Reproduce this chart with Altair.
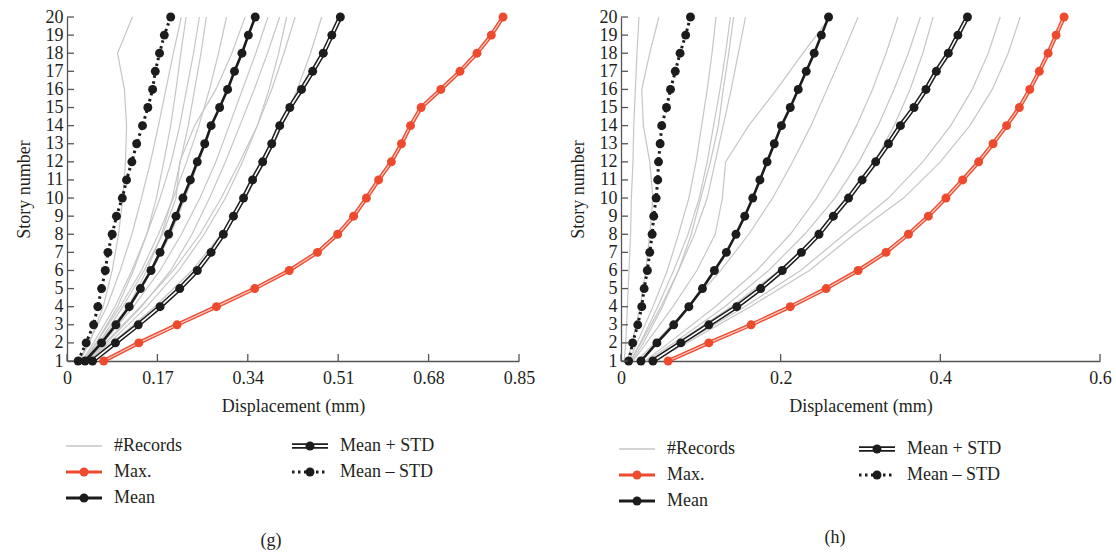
import altair as alt
import pandas as pd

FONT = "Liberation Serif"
TXT = "#231f20"
AX = "#555555"
GRAY = "#c6c6c6"
RED = "#ee4a2e"
BLK = "#1c1c1c"

STORIES = list(range(1, 21))
REC_STORIES = [1, 2, 4, 6, 8, 10, 12, 14, 16, 18, 20]

# ---------------- panel (g) ----------------
g_xticks = [0, 0.17, 0.34, 0.51, 0.68, 0.85]
g_max = [0.069, 0.135, 0.207, 0.281, 0.353, 0.418, 0.471, 0.509, 0.539, 0.563,
         0.586, 0.610, 0.629, 0.646, 0.666, 0.703, 0.739, 0.771, 0.798, 0.820]
g_mean_plus = [0.048, 0.091, 0.134, 0.175, 0.212, 0.245, 0.271, 0.294, 0.313, 0.332,
               0.349, 0.368, 0.385, 0.400, 0.419, 0.441, 0.462, 0.482, 0.498, 0.514]
g_mean = [0.034, 0.065, 0.092, 0.117, 0.138, 0.158, 0.175, 0.191, 0.205, 0.218,
          0.232, 0.245, 0.259, 0.271, 0.287, 0.302, 0.315, 0.329, 0.341, 0.354]
g_mean_minus = [0.021, 0.036, 0.050, 0.058, 0.065, 0.072, 0.077, 0.085, 0.093, 0.104,
                0.112, 0.122, 0.131, 0.142, 0.152, 0.161, 0.166, 0.174, 0.183, 0.195]
g_records = [
    [0.024, 0.042, 0.068, 0.085, 0.097, 0.105, 0.110, 0.112, 0.108, 0.095, 0.123],
    [0.022, 0.040, 0.075, 0.100, 0.122, 0.140, 0.157, 0.172, 0.186, 0.200, 0.215],
    [0.030, 0.055, 0.095, 0.125, 0.150, 0.168, 0.182, 0.195, 0.205, 0.214, 0.224],
    [0.028, 0.050, 0.090, 0.122, 0.150, 0.175, 0.196, 0.212, 0.225, 0.238, 0.249],
    [0.035, 0.065, 0.115, 0.150, 0.178, 0.198, 0.213, 0.228, 0.240, 0.252, 0.262],
    [0.030, 0.055, 0.100, 0.140, 0.172, 0.200, 0.225, 0.248, 0.268, 0.285, 0.300],
    [0.032, 0.060, 0.105, 0.145, 0.180, 0.205, 0.212, 0.240, 0.280, 0.310, 0.335],
    [0.030, 0.060, 0.115, 0.160, 0.195, 0.222, 0.248, 0.273, 0.302, 0.330, 0.354],
    [0.035, 0.068, 0.125, 0.175, 0.215, 0.250, 0.280, 0.305, 0.330, 0.355, 0.378],
    [0.038, 0.075, 0.140, 0.195, 0.235, 0.268, 0.298, 0.325, 0.352, 0.377, 0.400],
    [0.040, 0.080, 0.150, 0.210, 0.258, 0.298, 0.330, 0.358, 0.380, 0.398, 0.413],
    [0.036, 0.072, 0.138, 0.200, 0.250, 0.290, 0.325, 0.358, 0.385, 0.408, 0.429],
    [0.042, 0.085, 0.165, 0.235, 0.290, 0.335, 0.372, 0.405, 0.433, 0.458, 0.479],
]

# ---------------- panel (h) ----------------
h_xticks = [0, 0.2, 0.4, 0.6]
h_max = [0.059, 0.110, 0.163, 0.212, 0.257, 0.297, 0.332, 0.360, 0.385, 0.407,
         0.428, 0.448, 0.466, 0.483, 0.499, 0.512, 0.524, 0.535, 0.545, 0.555]
h_mean_plus = [0.040, 0.075, 0.110, 0.145, 0.175, 0.202, 0.226, 0.248, 0.266, 0.285,
               0.302, 0.319, 0.335, 0.350, 0.367, 0.382, 0.395, 0.410, 0.422, 0.434]
h_mean = [0.025, 0.045, 0.066, 0.085, 0.102, 0.117, 0.132, 0.144, 0.155, 0.165,
          0.174, 0.183, 0.192, 0.201, 0.212, 0.222, 0.232, 0.242, 0.251, 0.260]
h_mean_minus = [0.0096, 0.0146, 0.021, 0.026, 0.029, 0.033, 0.036, 0.039, 0.041, 0.044,
                0.046, 0.047, 0.049, 0.051, 0.057, 0.062, 0.068, 0.074, 0.081, 0.087]
h_records = [
    [0.004, 0.006, 0.008, 0.010, 0.012, 0.013, 0.015, 0.016, 0.018, 0.020, 0.0225],
    [0.008, 0.014, 0.024, 0.031, 0.036, 0.040, 0.036, 0.028, 0.026, 0.036, 0.0475],
    [0.010, 0.020, 0.040, 0.058, 0.072, 0.085, 0.094, 0.101, 0.108, 0.114, 0.119],
    [0.012, 0.024, 0.046, 0.066, 0.084, 0.098, 0.108, 0.116, 0.124, 0.131, 0.137],
    [0.014, 0.028, 0.052, 0.072, 0.088, 0.100, 0.112, 0.122, 0.128, 0.135, 0.141],
    [0.012, 0.025, 0.050, 0.072, 0.092, 0.108, 0.118, 0.128, 0.138, 0.147, 0.156],
    [0.015, 0.032, 0.065, 0.095, 0.118, 0.127, 0.131, 0.160, 0.195, 0.228, 0.262],
    [0.020, 0.042, 0.085, 0.125, 0.160, 0.190, 0.215, 0.238, 0.258, 0.278, 0.297],
    [0.030, 0.060, 0.118, 0.170, 0.212, 0.245, 0.272, 0.295, 0.315, 0.332, 0.347],
    [0.032, 0.066, 0.130, 0.185, 0.230, 0.268, 0.298, 0.322, 0.342, 0.360, 0.375],
    [0.035, 0.070, 0.138, 0.198, 0.248, 0.288, 0.318, 0.342, 0.362, 0.378, 0.391],
    [0.038, 0.078, 0.155, 0.225, 0.280, 0.335, 0.378, 0.413, 0.440, 0.460, 0.475],
    [0.040, 0.082, 0.162, 0.236, 0.292, 0.354, 0.400, 0.437, 0.465, 0.485, 0.500],
]

LABELS = ["#Records", "Max.", "Mean", "Mean + STD", "Mean \u2013 STD"]
H = 344
DOT = 80


def one():
    return pd.DataFrame({"a": [0]})


def legend_item(kind, x0, y, label):
    layers = []
    xa, xb, xd = x0, x0 + 36, x0 + 18
    enc = dict(x=alt.value(xa), x2=alt.value(xb), y=alt.value(y))
    if kind == 0:
        layers.append(alt.Chart(one()).mark_rule(color=GRAY, strokeWidth=1.3).encode(**enc))
    elif kind == 1:
        layers.append(alt.Chart(one()).mark_rule(color=RED, strokeWidth=3.2).encode(**enc))
    elif kind == 2:
        layers.append(alt.Chart(one()).mark_rule(color=BLK, strokeWidth=3.2).encode(**enc))
    elif kind == 3:
        layers.append(alt.Chart(one()).mark_rule(color=BLK, strokeWidth=5.5).encode(**enc))
        layers.append(alt.Chart(one()).mark_rule(color="white", strokeWidth=2.2).encode(**enc))
    else:
        layers.append(alt.Chart(one()).mark_rule(color=BLK, strokeWidth=3, strokeDash=[2.5, 3.5]).encode(**enc))
    if kind > 0:
        layers.append(alt.Chart(one()).mark_circle(color=RED if kind == 1 else BLK, size=DOT, opacity=1)
                      .encode(x=alt.value(xd), y=alt.value(y)))
    layers.append(alt.Chart(one()).mark_text(align="left", baseline="middle", font=FONT, fontSize=18, color=TXT)
                  .encode(x=alt.value(x0 + 48), y=alt.value(y), text=alt.value(label)))
    return layers


def panel(mx, mp, mn, mm, records, xticks, xmax, width, lx_left, lx_right, rows, cap_x, cap_y, caption):
    xscale = alt.Scale(domain=[0, xmax], nice=False, zero=True)
    yscale = alt.Scale(domain=[1, 20], nice=False, zero=False)
    xs = alt.X("disp:Q", scale=xscale,
               axis=alt.Axis(values=xticks, format=".2~f", title="Displacement (mm)",
                             ticks=False, tickSize=0, labelPadding=8, titlePadding=10,
                             grid=False, domainColor=AX, domainWidth=1.3,
                             labelFont=FONT, labelFontSize=18, labelColor=TXT,
                             labelFlush=False, labelOverlap=False,
                             titleFont=FONT, titleFontSize=18, titleColor=TXT, titleFontWeight="normal"))
    ys = alt.Y("story:Q", scale=yscale,
               axis=alt.Axis(values=STORIES, format="d", title="Story number",
                             ticks=False, tickSize=0, labelPadding=4, titlePadding=12,
                             grid=False, domainColor=AX, domainWidth=1.3,
                             labelFont=FONT, labelFontSize=18, labelColor=TXT,
                             labelFlush=False, labelOverlap=False,
                             titleFont=FONT, titleFontSize=18, titleColor=TXT, titleFontWeight="normal"))

    rec_rows = []
    for i, r in enumerate(records):
        for s, v in zip(REC_STORIES, r):
            rec_rows.append({"rec": i, "story": s, "disp": v})
    rec_df = pd.DataFrame(rec_rows)

    def sdf(vals):
        return pd.DataFrame({"story": STORIES, "disp": vals})

    order = alt.Order("story:Q")
    layers = []
    layers.append(alt.Chart(rec_df).mark_line(color=GRAY, strokeWidth=1.2)
                  .encode(x=xs, y=ys, detail="rec:N", order=order))
    # Mean - STD (dotted)
    layers.append(alt.Chart(sdf(mm)).mark_line(color=BLK, strokeWidth=3, strokeDash=[2.5, 3.5])
                  .encode(x=xs, y=ys, order=order))
    layers.append(alt.Chart(sdf(mm)).mark_circle(color=BLK, size=DOT, opacity=1).encode(x=xs, y=ys))
    # Mean
    layers.append(alt.Chart(sdf(mn)).mark_line(color=BLK, strokeWidth=2.6).encode(x=xs, y=ys, order=order))
    layers.append(alt.Chart(sdf(mn)).mark_circle(color=BLK, size=DOT, opacity=1).encode(x=xs, y=ys))
    # Mean + STD (double line)
    layers.append(alt.Chart(sdf(mp)).mark_line(color=BLK, strokeWidth=4.6).encode(x=xs, y=ys, order=order))
    layers.append(alt.Chart(sdf(mp)).mark_line(color="white", strokeWidth=1.6).encode(x=xs, y=ys, order=order))
    layers.append(alt.Chart(sdf(mp)).mark_circle(color=BLK, size=DOT, opacity=1).encode(x=xs, y=ys))
    # Max (red double line)
    layers.append(alt.Chart(sdf(mx)).mark_line(color=RED, strokeWidth=4).encode(x=xs, y=ys, order=order))
    layers.append(alt.Chart(sdf(mx)).mark_line(color="#f7c8be", strokeWidth=1.3).encode(x=xs, y=ys, order=order))
    layers.append(alt.Chart(sdf(mx)).mark_circle(color=RED, size=DOT, opacity=1).encode(x=xs, y=ys))
    # inward ticks
    layers.append(alt.Chart(pd.DataFrame({"disp": xticks})).mark_rule(color=AX, strokeWidth=1.3)
                  .encode(x=xs, y=alt.value(H - 7), y2=alt.value(H)))
    layers.append(alt.Chart(pd.DataFrame({"story": STORIES})).mark_rule(color=AX, strokeWidth=1.3)
                  .encode(y=ys, x=alt.value(0), x2=alt.value(7)))
    # legend
    pos = [(lx_left, rows[0]), (lx_left, rows[1]), (lx_left, rows[2]), (lx_right, rows[0]), (lx_right, rows[1])]
    for k, (lab, (px, py)) in enumerate(zip(LABELS, pos)):
        layers += legend_item(k, px, py, lab)
    # caption
    layers.append(alt.Chart(one()).mark_text(align="center", baseline="middle", font=FONT, fontSize=18, color=TXT)
                  .encode(x=alt.value(cap_x), y=alt.value(cap_y), text=alt.value(caption)))
    return alt.layer(*layers).properties(width=width, height=H)


g = panel(g_max, g_mean_plus, g_mean, g_mean_minus, g_records, g_xticks, 0.85, 452,
          -1, 225, [429, 455, 481], 204, 524, "(g)")
h = panel(h_max, h_mean_plus, h_mean, h_mean_minus, h_records, h_xticks, 0.6, 479,
          -2, 238, [432, 458, 484], 214, 521, "(h)")

chart = (alt.hconcat(g, h, spacing=102, bounds="flush")
         .configure_view(stroke=None)
         .properties(padding={"left": 15, "top": 7, "right": 0, "bottom": 0}))

chart.save("out.html", embed_options={"renderer": "svg", "actions": False})
